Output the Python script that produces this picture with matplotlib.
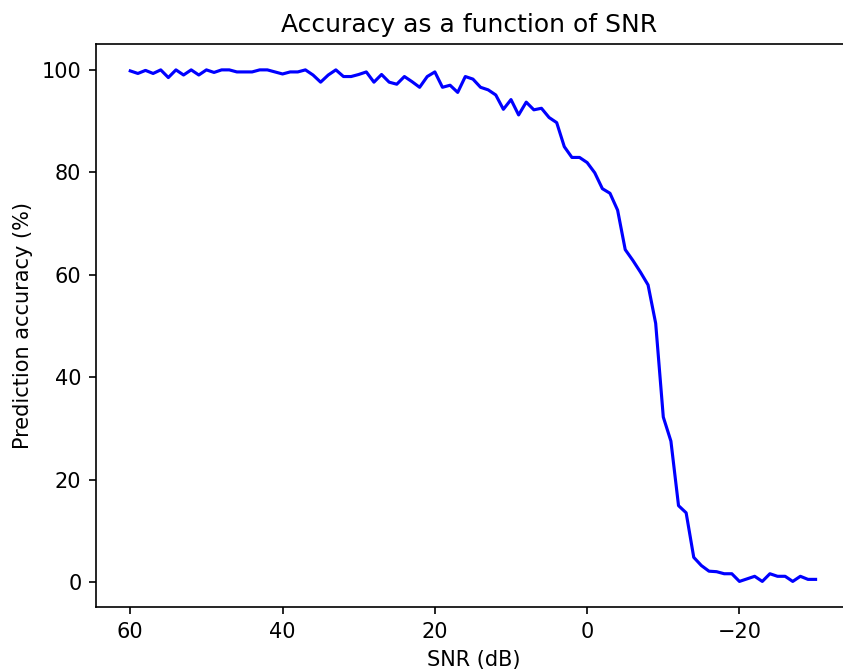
import matplotlib
matplotlib.use('Agg')
import matplotlib.pyplot as plt

snr = list(range(60, -31, -1))
accuracy = [99.8, 99.3, 99.9, 99.3, 100.0, 98.5, 100.0, 99.0, 100.0, 99.0,
            100.0, 99.5, 100.0, 100.0, 99.6, 99.6, 99.6, 100.0, 100.0, 99.6,
            99.2, 99.6, 99.6, 100.0, 99.0, 97.6, 99.0, 100.0, 98.7, 98.7,
            99.1, 99.6, 97.6, 99.1, 97.6, 97.2, 98.7, 97.7, 96.6, 98.7,
            99.6, 96.6, 97.0, 95.6, 98.7, 98.2, 96.6, 96.1, 95.1, 92.3,
            94.2, 91.2, 93.7, 92.2, 92.5, 90.7, 89.7, 85.0, 82.9, 82.9,
            81.9, 79.9, 76.8, 75.9, 72.6, 64.9, 62.8, 60.5, 58.0, 50.5,
            32.2, 27.5, 14.9, 13.5, 4.8, 3.2, 2.1, 2.0, 1.6, 1.6,
            0.1, 0.6, 1.1, 0.1, 1.6, 1.1, 1.1, 0.1, 1.1, 0.5,
            0.5]

fig = plt.figure(figsize=(843 / 150, 671 / 150), dpi=150)
# the original screenshot is cut off on the right, so the axes reach the edge
ax = fig.add_axes([96 / 843, 1 - 607 / 671, 1 - 96 / 843, (607 - 44.3) / 671])
ax.plot(snr, accuracy, color='b')
ax.set_xlim(64.5, -33.6)
ax.spines['right'].set_visible(False)
ax.set_title('Accuracy as a function of SNR')
ax.set_xlabel('SNR (dB)', x=0.506)
ax.set_ylabel('Prediction accuracy (%)')

fig.savefig('out.png', dpi=150)
